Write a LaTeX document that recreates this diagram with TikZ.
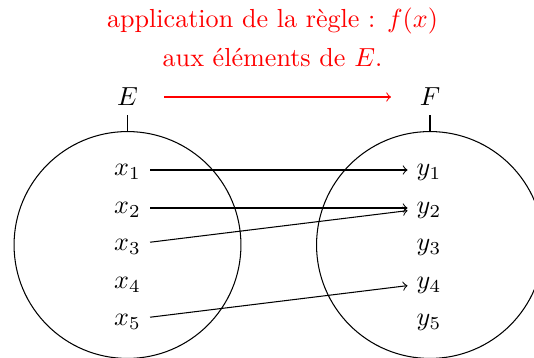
\documentclass[tikz,border=0pt]{standalone}
\begin{document}
\begin{tikzpicture}[x=0.383pt,y=-0.383pt,
  setc/.style={circle,draw,minimum size=86.9pt,inner sep=0pt},
  elem/.style={text height=7pt,text depth=3pt},
  title/.style={text=red,anchor=base},
  map/.style={->}]
\useasboundingbox (0,0) rectangle (534,358);
\node[title] (t1) at (272.5,28) {application de la règle : $f(x)$};
\node[title] (t2) at (272.5,67) {aux éléments de $E$.};
\node (E) at (127.5,97) {$E$};
\node (F) at (430,97) {$F$};
\draw[red,->,shorten <=6.5pt,shorten >=7.5pt] (E) -- (F);
\node[setc] (cE) at (127.5,245) {};
\node[setc] (cF) at (430,245) {};
\draw (E) -- (cE.north);
\draw (F) -- (cF.north);
\foreach \i/\y in {1/170,2/208,3/245,4/283,5/320}{
  \node[elem] (x\i) at (127.5,\y) {$x_\i$};
  \node[elem] (y\i) at (429,\y) {$y_\i$};
}
\draw[map] (x1) -- (y1);
\draw[map] (x2) -- (y2);
\draw[map] (x3) -- (y2);
\draw[map] (x5) -- (y4);
\end{tikzpicture}
\end{document}
